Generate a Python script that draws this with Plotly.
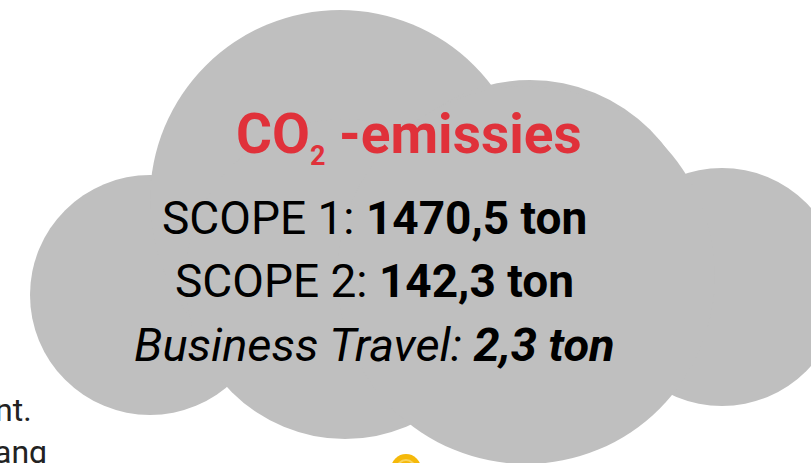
import plotly.graph_objects as go

# ---- data ----
title_main = "CO"
title_sub = "2"
title_rest = " -emissies"
labels = ["SCOPE 1", "SCOPE 2", "Business Travel"]
values = [1470.5, 142.3, 2.3]
unit = "ton"
italic_flags = [False, False, True]
side_texts = ["nt.", "ang"]

W, H = 811, 463
CLOUD = "#bfbfbf"

# cloud lobes: (cx, cy, rx, ry)
lobes = [
    (150, 295, 120, 120),   # left
    (340, 200, 190, 190),   # top
    (530, 250, 170, 170),   # right-middle
    (722, 287, 119, 119),   # far right
    (345, 279, 160, 160),   # bottom middle-left
    (526, 275, 189, 189),   # bottom centre
]

fig = go.Figure()
fig.add_trace(go.Scatter(x=[0], y=[0], mode="markers", marker=dict(opacity=0),
                         hoverinfo="skip", showlegend=False))

shapes = []
for cx, cy, rx, ry in lobes:
    shapes.append(dict(type="circle", xref="x", yref="y",
                       x0=cx - rx, x1=cx + rx, y0=cy - ry, y1=cy + ry,
                       fillcolor=CLOUD, line=dict(width=0), layer="below"))
# yellow icon peeking at bottom
shapes.append(dict(type="circle", xref="x", yref="y", x0=391, x1=421, y0=454, y1=484,
                   fillcolor="#f5b90a", line=dict(width=0)))
shapes.append(dict(type="circle", xref="x", yref="y", x0=397, x1=415, y0=460, y1=478,
                   fillcolor="rgba(0,0,0,0)", line=dict(width=2, color="#f9d35c")))

def fmt(v):
    return f"{v:.1f}".replace(".", ",")

annotations = []
annotations.append(dict(
    x=409, y=137, xref="x", yref="y", showarrow=False, xanchor="center", yanchor="middle",
    text=f"<b>{title_main}<sub><span style='font-size:27px'>{title_sub}</span></sub>{title_rest}</b>",
    font=dict(family="Roboto", size=55, color="#e0313a")))

line_y = [218, 281, 344]
for lab, val, it, yy in zip(labels, values, italic_flags, line_y):
    t = f"{lab}: <b>{fmt(val)} {unit}</b>"
    if it:
        t = f"<i>{t}</i>"
    annotations.append(dict(x=374, y=yy, xref="x", yref="y", showarrow=False,
                            xanchor="center", yanchor="middle", text=t,
                            font=dict(family="Roboto", size=47 if it else 46, color="#000000")))

annotations.append(dict(x=34, y=410, xref="x", yref="y", showarrow=False, xanchor="right",
                        yanchor="middle", text=side_texts[0],
                        font=dict(family="Roboto", size=32, color="#222222")))
annotations.append(dict(x=49, y=452, xref="x", yref="y", showarrow=False, xanchor="right",
                        yanchor="middle", text=side_texts[1],
                        font=dict(family="Roboto", size=32, color="#222222")))

fig.update_layout(
    width=W, height=H, margin=dict(l=0, r=0, t=0, b=0),
    paper_bgcolor="white", plot_bgcolor="white",
    xaxis=dict(range=[0, W], visible=False, fixedrange=True),
    yaxis=dict(range=[H, 0], visible=False, fixedrange=True),
    shapes=shapes, annotations=annotations, showlegend=False,
)
fig.write_html("out.html", config={"displayModeBar": False},
               post_script="document.body.style.margin='0';document.body.style.overflow='hidden';")
